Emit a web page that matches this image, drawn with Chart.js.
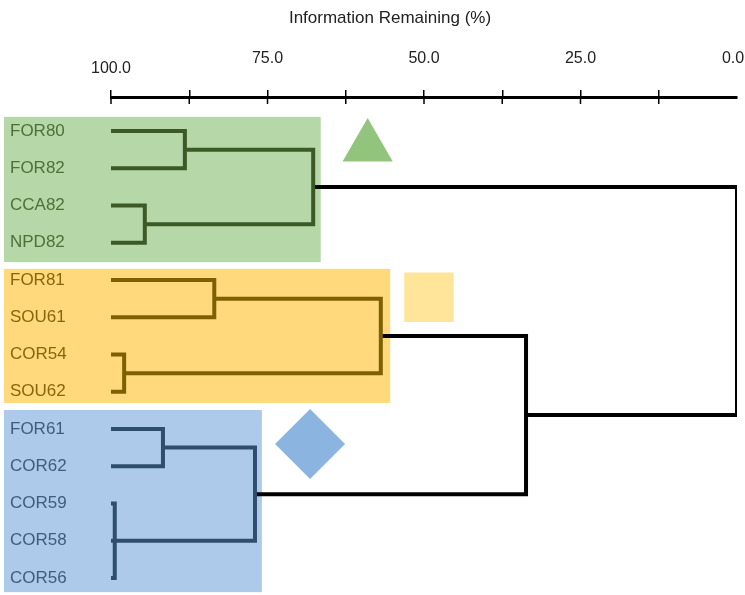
<!DOCTYPE html>
<html>
<head>
<meta charset="utf-8">
<script src="https://cdn.jsdelivr.net/npm/chart.js@4.4.1/dist/chart.umd.min.js"></script>
<style>
  html, body { margin: 0; padding: 0; background: #fff; overflow: hidden; }
  canvas { display: block; }
</style>
</head>
<body>
<canvas id="dendro" width="745" height="595"></canvas>
<script>
// leaves, top to bottom
const leaves = ['FOR80', 'FOR82', 'CCA82', 'NPD82', 'FOR81', 'SOU61', 'COR54', 'SOU62',
                'FOR61', 'COR62', 'COR59', 'COR58', 'COR56'];
const leafGroup = [0, 0, 0, 0, 1, 1, 1, 1, 2, 2, 2, 2, 2];

// merges: [child node ids, information remaining (%)]; new nodes numbered from 13
const merges = [
    [[0, 1], 88.2],        // 13
    [[2, 3], 94.6],        // 14
    [[13, 14], 67.7],      // 15
    [[4, 5], 83.5],        // 16
    [[6, 7], 97.9],        // 17
    [[16, 17], 56.9],      // 18
    [[8, 9], 91.7],        // 19
    [[10, 11, 12], 99.4],  // 20
    [[19, 20], 77.0],      // 21
    [[18, 21], 33.7],      // 22
    [[15, 22], 0.0]        // 23
];

const xTicks = [100, 87.5, 75, 62.5, 50, 37.5, 25, 12.5, 0];

const lineColors = ['#3b5a26', '#7f6000', '#2f4d6c'];
const labelColors = ['#4d7038', '#86670a', '#3f5c7b'];
const boxColors = ['#b6d7a8', '#ffd97b', '#adcaea'];

// build node positions
const nodes = leaves.map((name, i) => ({ x: 100, y: i, groups: [leafGroup[i]] }));
merges.forEach(([kids, h]) => {
    const ch = kids.map(k => nodes[k]);
    const y = ch.reduce((s, c) => s + c.y, 0) / ch.length;
    nodes.push({ x: h, y: y, kids: kids, groups: [].concat(...ch.map(c => c.groups)) });
});

const datasets = [];
nodes.forEach(n => {
    if (!n.kids) return;
    const ch = n.kids.map(k => nodes[k]);
    const same = n.groups.every(g => g === n.groups[0]);
    const color = same ? lineColors[n.groups[0]] : '#000000';
    const first = ch[0], last = ch[ch.length - 1];
    const seg = (data) => datasets.push({
        data: data,
        showLine: true,
        borderColor: color,
        borderWidth: 4,
        pointRadius: 0,
        borderJoinStyle: 'miter',
        borderCapStyle: 'butt'
    });
    seg([{ x: first.x, y: first.y }, { x: n.x, y: first.y }, { x: n.x, y: last.y }, { x: last.x, y: last.y }]);
    ch.slice(1, -1).forEach(c => seg([{ x: c.x, y: c.y }, { x: n.x, y: c.y }]));
});

// group markers
const marker = (x, y, style, r, color) => datasets.push({
    data: [{ x: x, y: y }],
    showLine: false,
    pointStyle: style,
    pointRadius: r,
    pointBackgroundColor: color,
    pointBorderWidth: 0
});
marker(59.0, 0.43, 'triangle', 29, '#93c47d');
marker(49.2, 4.46, 'rect', 35, '#ffe599');
marker(68.2, 8.40, 'rectRot', 35, '#8bb4e1');

// shaded group boxes behind labels and tree
const groupBoxes = {
    id: 'groupBoxes',
    beforeDraw(chart) {
        const { ctx, scales: { x, y } } = chart;
        const boxes = [
            [117.1, 66.5, -0.38, 3.52, 0],
            [117.1, 55.4, 3.70, 7.30, 1],
            [117.1, 75.9, 7.49, 12.38, 2]
        ];
        ctx.save();
        boxes.forEach(([x0, x1, y0, y1, g]) => {
            const l = x.getPixelForValue(x0), r = x.getPixelForValue(x1);
            const t = y.getPixelForValue(y0), b = y.getPixelForValue(y1);
            ctx.fillStyle = boxColors[g];
            ctx.fillRect(l, t, r - l, b - t);
        });
        ctx.restore();
    },
    afterDraw(chart) {
        // tick marks crossing below the axis line (none at the far end)
        const { ctx, scales: { x }, chartArea } = chart;
        ctx.save();
        ctx.strokeStyle = '#000';
        ctx.lineWidth = 1.5;
        xTicks.filter(v => v !== 0).forEach(v => {
            const px = x.getPixelForValue(v);
            ctx.beginPath();
            ctx.moveTo(px, chartArea.top);
            ctx.lineTo(px, chartArea.top + 7);
            ctx.stroke();
        });
        ctx.restore();
    }
};

new Chart(document.getElementById('dendro'), {
    type: 'scatter',
    data: { datasets: datasets },
    plugins: [groupBoxes],
    options: {
        responsive: false,
        devicePixelRatio: 1,
        animation: false,
        layout: { autoPadding: false, padding: { left: 10, right: 8, top: 0, bottom: 3 } },
        plugins: {
            legend: { display: false },
            tooltip: { enabled: false }
        },
        scales: {
            x: {
                type: 'linear',
                position: 'top',
                reverse: true,
                min: 0,
                max: 100,
                afterBuildTicks: (scale) => { scale.ticks = xTicks.map(v => ({ value: v })); },
                afterFit: (scale) => {
                    scale.height = 97;
                    scale.paddingLeft = 0;
                    scale.paddingRight = 0;
                },
                ticks: {
                    autoSkip: false,
                    maxRotation: 0,
                    padding: 17,
                    color: '#222',
                    font: { family: 'Liberation Sans, Arial, sans-serif', size: 16, lineHeight: 0.6 },
                    // the first label sits one step lower than the rest; the last one is pulled inward
                    callback: (v) => {
                        if (v % 25 !== 0) return '';
                        if (v === 100) return v.toFixed(1);
                        if (v === 0) return [v.toFixed(1) + '\u2002', ''];
                        return [v.toFixed(1), ''];
                    }
                },
                grid: {
                    drawOnChartArea: false,
                    drawTicks: true,
                    tickLength: 7,
                    color: (c) => (c.tick && c.tick.value === 0 ? 'rgba(0,0,0,0)' : '#000'),
                    lineWidth: 1.5
                },
                border: { display: true, color: '#000', width: 3 },
                title: {
                    display: true,
                    text: 'Information Remaining (%)\u2003\u2003\u2003\u2003',
                    color: '#222',
                    font: { family: 'Liberation Sans, Arial, sans-serif', size: 17 },
                    padding: { top: 8, bottom: 0 }
                }
            },
            y: {
                type: 'linear',
                reverse: true,
                min: -0.913,
                max: 12.376,
                afterBuildTicks: (scale) => { scale.ticks = leaves.map((_, i) => ({ value: i })); },
                afterFit: (scale) => {
                    scale.width = 101;
                    scale.paddingTop = 0;
                    scale.paddingBottom = 0;
                },
                ticks: {
                    autoSkip: false,
                    crossAlign: 'far',
                    color: (c) => labelColors[leafGroup[c.index]],
                    font: { family: 'Liberation Sans, Arial, sans-serif', size: 17 },
                    callback: (v) => leaves[v]
                },
                grid: { display: false },
                border: { display: false }
            }
        }
    }
});
</script>
</body>
</html>
